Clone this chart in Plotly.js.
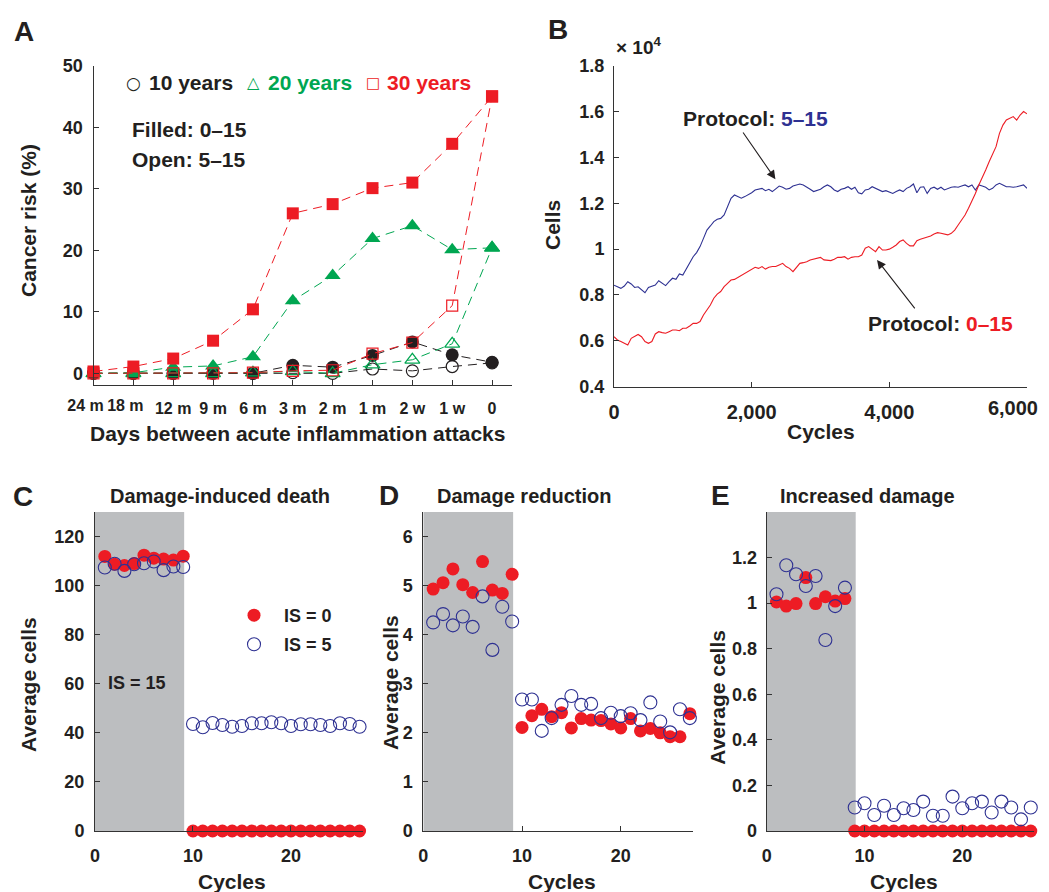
<!DOCTYPE html>
<html>
<head>
<meta charset="utf-8">
<script src="https://cdn.plot.ly/plotly-3.0.1.min.js"></script>
<style>html,body{margin:0;padding:0;background:#fff;}#chart{width:1049px;height:892px;}</style>
</head>
<body>
<div id="chart"></div>
<script>
// ---------- Panel A data ----------
const aCategories = ['24 m','18 m','12 m','9 m','6 m','3 m','2 m','1 m','2 w','1 w','0'];
const aIndex = [0,1,2,3,4,5,6,7,8,9,10];
const risk10Filled = [0, 0, 0, 0.1, 0, 1.3, 1.0, 2.9, 5.1, 3.0, 1.8];
const risk10Open   = [0, 0, 0, 0, 0, 0.1, 0, 0.7, 0.4, 1.1, 1.7];
const risk20Filled = [0, 0.1, 1.0, 1.2, 2.7, 11.8, 15.9, 21.9, 24.0, 20.1, 20.4];
const risk20Open   = [0, 0, 0, 0, 0.1, 0.3, 0, 1.4, 2.2, 4.8, 20.4];
const risk30Filled = [0.3, 1.1, 2.4, 5.3, 10.4, 26.0, 27.5, 30.1, 31.0, 37.3, 45.0];
const risk30Open   = [0, 0, 0, 0, 0.1, 0.4, 0.5, 3.2, 5.0, 11.0, 45.0];

// ---------- Panel B data (cells, in units of 10^4), read every 50 cycles ----------
const bCycles = [0,50,100,150,200,250,300,350,400,450,500,550,600,650,700,750,800,850,900,950,
  1000,1050,1100,1150,1200,1250,1300,1350,1400,1450,1500,1550,1600,1650,1700,1750,1800,1850,1900,1950,
  2000,2050,2100,2150,2200,2250,2300,2350,2400,2450,2500,2550,2600,2650,2700,2750,2800,2850,2900,2950,
  3000,3050,3100,3150,3200,3250,3300,3350,3400,3450,3500,3550,3600,3650,3700,3750,3800,3850,3900,3950,
  4000,4050,4100,4150,4200,4250,4300,4350,4400,4450,4500,4550,4600,4650,4700,4750,4800,4850,4900,4950,
  5000,5050,5100,5150,5200,5250,5300,5350,5400,5450,5500,5550,5600,5650,5700,5750,5800,5850,5900,5950,6000];
const bTickVals = [0, 2000, 4000, 6000];
const bTickLabels = ['0','2,000','4,000','6,000'];
const cellsProtocol515 = [0.843,0.836,0.829,0.839,0.858,0.848,0.833,0.836,0.825,0.810,
  0.833,0.839,0.843,0.862,0.851,0.841,0.858,0.873,0.868,0.892,
  0.887,0.916,0.945,0.967,0.985,1.011,1.047,1.083,1.101,1.120,
  1.130,1.134,1.149,1.185,1.222,1.236,1.229,1.222,1.229,1.236,
  1.246,1.258,1.261,1.265,1.255,1.261,1.251,1.265,1.275,1.270,
  1.261,1.265,1.275,1.280,1.284,1.280,1.272,1.261,1.251,1.255,
  1.261,1.272,1.280,1.272,1.258,1.251,1.261,1.265,1.272,1.261,
  1.270,1.246,1.241,1.258,1.261,1.272,1.265,1.258,1.251,1.255,
  1.248,1.243,1.251,1.258,1.251,1.265,1.272,1.284,1.246,1.270,
  1.272,1.243,1.265,1.270,1.261,1.270,1.258,1.265,1.270,1.272,
  1.270,1.275,1.280,1.272,1.280,1.258,1.280,1.275,1.270,1.258,
  1.265,1.280,1.287,1.280,1.272,1.272,1.270,1.272,1.275,1.280,1.265];
const cellsProtocol015 = [0.618,0.604,0.597,0.589,0.582,0.611,0.618,0.628,0.618,0.597,
  0.589,0.597,0.630,0.640,0.636,0.633,0.640,0.647,0.647,0.644,
  0.655,0.655,0.665,0.676,0.676,0.684,0.713,0.735,0.756,0.786,
  0.804,0.815,0.836,0.851,0.865,0.868,0.877,0.883,0.895,0.902,
  0.912,0.921,0.916,0.924,0.913,0.921,0.924,0.924,0.931,0.938,
  0.924,0.916,0.902,0.921,0.938,0.941,0.945,0.953,0.956,0.960,
  0.964,0.953,0.953,0.950,0.956,0.964,0.964,0.967,0.956,0.964,
  0.967,0.967,0.974,1.004,1.011,1.000,0.989,1.011,0.996,0.996,
  1.000,1.008,1.018,1.033,1.040,1.025,1.014,1.014,1.037,1.043,
  1.047,1.054,1.057,1.066,1.072,1.069,1.066,1.062,1.069,1.083,
  1.105,1.127,1.149,1.178,1.207,1.243,1.280,1.309,1.345,1.381,
  1.418,1.447,1.505,1.541,1.563,1.570,1.578,1.563,1.585,1.600,1.590];

// ---------- Panels C, D, E data ----------
const cycles = [1,2,3,4,5,6,7,8,9,10,11,12,13,14,15,16,17,18,19,20,21,22,23,24,25,26,27];
const deathIS0 = [111.9,108.7,108.2,109.0,112.4,111.2,110.8,110.4,112.0,0,0,0,0,0,0,0,0,0,0,0,0,0,0,0,0,0,0];
const deathIS5 = [107.4,108.9,106.0,108.7,109.1,109.8,106.3,107.8,107.6,43.6,42.3,44.0,43.2,42.5,42.8,43.9,43.9,44.3,43.9,42.8,43.5,43.5,43.2,42.8,43.9,43.6,42.5];
const reductionIS0 = [4.93,5.06,5.34,5.02,4.86,5.49,4.91,4.84,5.23,2.11,2.35,2.48,2.33,2.41,2.10,2.29,2.26,2.25,2.18,2.10,2.29,2.04,2.09,2.00,1.92,1.92,2.39];
const reductionIS5 = [4.25,4.42,4.19,4.37,4.16,4.78,3.69,4.57,4.27,2.68,2.68,2.04,2.30,2.57,2.75,2.57,2.59,2.30,2.41,2.34,2.40,2.26,2.62,2.23,2.01,2.48,2.30];
const increasedIS0 = [1.005,0.987,0.998,1.112,0.998,1.028,1.009,1.020,0,0,0,0,0,0,0,0,0,0,0,0,0,0,0,0,0,0,0];
const increasedIS5 = [1.039,1.166,1.127,1.075,1.119,0.838,0.987,1.068,0.103,0.122,0.070,0.111,0.070,0.100,0.092,0.129,0.067,0.067,0.151,0.100,0.122,0.129,0.081,0.129,0.103,0.051,0.103];
const shadeEnd = 9.1;

// ---------- styling ----------
const RED = '#ED1C24', GREEN = '#00A651', BLACK = '#231F20', NAVY = '#2E3192', GRAY = '#BCBEC0';
const FONT = 'Liberation Sans, Arial, sans-serif';
const W = 1049, H = 892;
const px = v => v / W, py = v => 1 - v / H;
const NB = '\u00A0';

// In the original the first two labels of A and the last label of B are nudged inward;
// those labels are drawn by overlay axes that share the same range.
const aNudged = [0, 1];
const aTickTextMain = aCategories.map((t, i) => aNudged.includes(i) ? '' : t);
const lastB = bTickLabels.length - 1;
const bTickTextMain = bTickLabels.map((t, i) => i === lastB ? '' : t);

const traces = [];
function aTrace(y, color, symbol, size, open, xa) {
  traces.push({
    x: aIndex, y: y, xaxis: xa || 'x', yaxis: 'y', type: 'scatter', mode: 'lines+markers',
    line: {color: color, width: 1, dash: '9px,6px'},
    marker: {symbol: symbol, size: size, color: open ? 'rgba(0,0,0,0)' : color,
             line: {color: color, width: open ? 1.2 : 0}},
    showlegend: false, cliponaxis: false, hoverinfo: 'skip'
  });
}
aTrace(risk10Open, BLACK, 'circle', 12, true);
aTrace(risk10Filled, BLACK, 'circle', 13, false);
aTrace(risk20Filled, GREEN, 'triangle-up', 14, false);
aTrace(risk20Open, GREEN, 'triangle-up', 13, true);
aTrace(risk30Filled, RED, 'square', 12, false);
aTrace(risk30Open, RED, 'square', 11, true, 'x7');

traces.push({x: bCycles, y: cellsProtocol515, xaxis: 'x2', yaxis: 'y2', type: 'scatter', mode: 'lines',
  line: {color: NAVY, width: 1.1}, showlegend: false, hoverinfo: 'skip'});
traces.push({x: bCycles, y: cellsProtocol015, xaxis: 'x6', yaxis: 'y2', type: 'scatter', mode: 'lines',
  line: {color: RED, width: 1.1}, showlegend: false, hoverinfo: 'skip'});

function cdeTraces(ax, yRed, yBlue, legendOn) {
  traces.push({x: cycles, y: yRed, xaxis: 'x' + ax, yaxis: 'y' + ax, type: 'scatter', mode: 'markers',
    name: NB + NB + 'IS = 0', legend: 'legend', showlegend: legendOn,
    marker: {symbol: 'circle', size: 13, color: RED, line: {width: 0}}, cliponaxis: false, hoverinfo: 'skip'});
  traces.push({x: cycles, y: yBlue, xaxis: 'x' + ax, yaxis: 'y' + ax, type: 'scatter', mode: 'markers',
    name: NB + NB + 'IS = 5', legend: 'legend2', showlegend: legendOn,
    marker: {symbol: 'circle-open', size: 13, color: NAVY, line: {color: NAVY, width: 1.1}}, cliponaxis: false, hoverinfo: 'skip'});
}
cdeTraces(3, deathIS0, deathIS5, true);
cdeTraces(4, reductionIS0, reductionIS5, false);
cdeTraces(5, increasedIS0, increasedIS5, false);

function axis(extra) {
  return Object.assign({
    showline: true, linecolor: '#333', linewidth: 1, ticks: 'inside', ticklen: 5, tickwidth: 1,
    tickcolor: '#333', showgrid: false, zeroline: false, fixedrange: true, tickangle: 0,
    tickfont: {family: FONT, size: 18, color: BLACK, weight: 'bold'}
  }, extra);
}
const aTickFont = {family: FONT, size: 16, color: BLACK, weight: 'bold'};
const bTickFont = {family: FONT, size: 20, color: BLACK, weight: 'bold'};

const layout = {
  width: W, height: H, margin: {l: 0, r: 0, t: 0, b: 0}, paper_bgcolor: '#fff', plot_bgcolor: 'rgba(0,0,0,0)',
  font: {family: FONT, color: BLACK},
  xaxis: axis({domain: [px(93.5), px(512)], range: [0, 10.5], tickvals: aIndex, ticktext: aTickTextMain,
    anchor: 'y', ticklabelstandoff: 9, tickfont: aTickFont}),
  xaxis7: axis({domain: [px(93.5), px(512)], range: [0, 10.5], overlaying: 'x', anchor: 'y', showline: false,
    ticks: '', tickvals: aNudged, ticktext: aNudged.map(i => aCategories[i]),
    ticklabelshift: -8, ticklabelstandoff: 9, tickfont: aTickFont}),
  yaxis: axis({domain: [py(385), py(65.7)], range: [-1.9, 50], tickvals: [0,10,20,30,40,50], anchor: 'x',
    ticklabelstandoff: 6}),
  xaxis2: axis({domain: [px(614), px(1027)], range: [0, 6000], tickvals: bTickVals,
    ticktext: bTickTextMain, anchor: 'y2', ticklabelstandoff: 7, tickfont: bTickFont}),
  xaxis6: axis({domain: [px(614), px(1027)], range: [0, 6000], overlaying: 'x2', anchor: 'y2', showline: false,
    ticks: '', tickvals: [bTickVals[lastB]], ticktext: [bTickLabels[lastB]],
    ticklabelposition: 'outside left', ticklabelshift: 11, ticklabelstandoff: 7, tickfont: bTickFont}),
  yaxis2: axis({domain: [py(386.7), py(65.7)], range: [0.4, 1.8], tickvals: [0.4,0.6,0.8,1,1.2,1.4,1.6,1.8],
    ticktext: ['0.4','0.6','0.8','1','1.2','1.4','1.6','1.8'], anchor: 'x2', ticklabelstandoff: 5}),
  xaxis3: axis({domain: [px(95), px(362.5)], range: [0, 27.3], tickvals: [0,10,20], anchor: 'y3', ticklabelstandoff: 8}),
  yaxis3: axis({domain: [py(831), py(512)], range: [0, 130], tickvals: [0,20,40,60,80,100,120], anchor: 'x3', ticklabelstandoff: 6}),
  xaxis4: axis({domain: [px(423.3), px(692.8)], range: [0, 27.3], tickvals: [0,10,20], anchor: 'y4', ticklabelstandoff: 8}),
  yaxis4: axis({domain: [py(831), py(512)], range: [0, 6.5], tickvals: [0,1,2,3,4,5,6], anchor: 'x4', ticklabelstandoff: 6}),
  xaxis5: axis({domain: [px(766.7), px(1033.7)], range: [0, 27.3], tickvals: [0,10,20], anchor: 'y5', ticklabelstandoff: 8}),
  yaxis5: axis({domain: [py(831), py(512)], range: [0, 1.4], tickvals: [0,0.2,0.4,0.6,0.8,1,1.2],
    ticktext: ['0','0.2','0.4','0.6','0.8','1','1.2'], anchor: 'x5', ticklabelstandoff: 5}),
  shapes: [3,4,5].map(i => ({type: 'rect', xref: 'x' + i, yref: 'y' + i, x0: 0, x1: shadeEnd, y0: 0,
    y1: [130, 6.5, 1.4][i - 3], fillcolor: GRAY, line: {width: 0}, layer: 'below'})),
  legend: {x: px(234), y: py(597), xanchor: 'left', yanchor: 'top', bgcolor: 'rgba(0,0,0,0)', borderwidth: 0,
    font: {family: FONT, size: 18, color: BLACK, weight: 'bold'}},
  legend2: {x: px(234), y: py(626), xanchor: 'left', yanchor: 'top', bgcolor: 'rgba(0,0,0,0)', borderwidth: 0,
    font: {family: FONT, size: 18, color: BLACK, weight: 'bold'}},
  annotations: []
};

function note(text, x, y, size, opts) {
  layout.annotations.push(Object.assign({
    text: text, x: px(x), y: py(y), xref: 'paper', yref: 'paper', showarrow: false,
    xanchor: 'center', yanchor: 'middle',
    font: {family: FONT, size: size, color: BLACK, weight: 'bold'}
  }, opts || {}));
}
// panel letters
note('A', 24, 31, 28); note('B', 558, 30, 28); note('C', 23, 496, 28); note('D', 389, 495, 28); note('E', 720, 495, 28);
// panel A texts
note('○', 133, 83, 17, {font: {family: 'DejaVu Sans', size: 17, color: BLACK}});
note('10 years', 146.5, 83, 21, {xanchor: 'left'});
note('△', 253, 82, 16, {font: {family: 'DejaVu Sans', size: 16, color: GREEN}});
note('20 years', 265.5, 83, 21, {xanchor: 'left', font: {family: FONT, size: 21, color: GREEN, weight: 'bold'}});
note('□', 373, 83, 15, {font: {family: 'DejaVu Sans', size: 15, color: RED}});
note('30 years', 385, 83, 21, {xanchor: 'left', font: {family: FONT, size: 21, color: RED, weight: 'bold'}});
note('Filled: 0–15', 129.5, 130, 21, {xanchor: 'left'});
note('Open: 5–15', 129.5, 159.5, 21, {xanchor: 'left'});
note('Days between acute inflammation attacks', 297, 434, 21);
note('Cancer risk (%)', 28, 221, 21, {textangle: -90});
// panel B texts
note('Cycles', 821, 431, 21);
note('Cells', 552, 225, 21, {textangle: -90});
note('× 10<sup>4</sup>', 614, 46, 19, {xanchor: 'left'});
note('Protocol: <span style="color:' + NAVY + '">5–15</span>', 755.5, 118, 21);
note('Protocol: <span style="color:' + RED + '">0–15</span>', 940, 323, 21);
layout.annotations.push({xref: 'x2', yref: 'y2', axref: 'x2', ayref: 'y2', x: 2345, y: 1.305, ax: 1860, ay: 1.515,
  text: '', showarrow: true, arrowhead: 2, arrowsize: 1.6, arrowwidth: 1.1, arrowcolor: BLACK, standoff: 0});
layout.annotations.push({xref: 'x2', yref: 'y2', axref: 'x2', ayref: 'y2', x: 3821, y: 0.953, ax: 4387, ay: 0.735,
  text: '', showarrow: true, arrowhead: 2, arrowsize: 1.6, arrowwidth: 1.1, arrowcolor: BLACK, standoff: 0});
// panels C-E texts
note('Damage-induced death', 220, 496, 20);
note('Damage reduction', 524, 496, 20);
note('Increased damage', 867.5, 496, 20);
note('IS = 15', 137, 683, 18);
note('Cycles', 232, 881, 21); note('Cycles', 561.7, 881, 21); note('Cycles', 904, 881, 21);
note('Average cells', 28, 685, 21, {textangle: -90});
note('Average cells', 390, 683, 21, {textangle: -90});
note('Average cells', 716.7, 697, 21, {textangle: -90});

Plotly.newPlot('chart', traces, layout, {displayModeBar: false, staticPlot: true});
</script>
</body>
</html>
